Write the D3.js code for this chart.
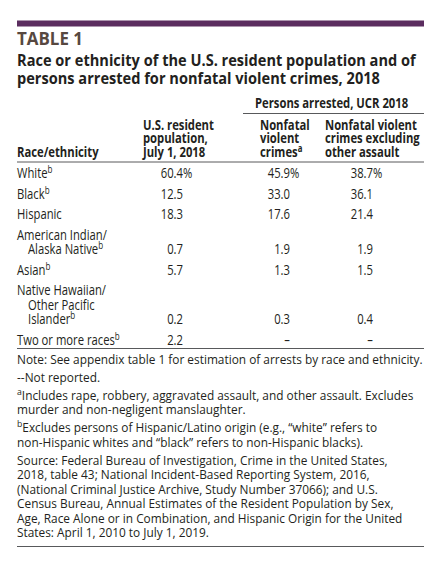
<!DOCTYPE html>
<html><head><meta charset="utf-8">
<script src="https://cdn.jsdelivr.net/npm/d3@7"></script>
<style>
html,body{margin:0;padding:0;background:#fff;}
svg text{font-family:"Open Sans","Noto Sans",sans-serif;fill:#231f20;}
</style></head>
<body><svg id="c" width="440" height="564"></svg>
<script>
// ---- data ----
const categories = [["White"],["Black"],["Hispanic"],["American Indian/","Alaska Native"],["Asian"],["Native Hawaiian/","Other Pacific","Islander"],["Two or more races"]];
const categorySup = ["b","b","","b","b","b","b"];
const populationPct = [60.4, 12.5, 18.3, 0.7, 5.7, 0.2, 2.2];
const nonfatalPct = [45.9, 33.0, 17.6, 1.9, 1.3, 0.3, null];
const nonfatalExclPct = [38.7, 36.1, 21.4, 1.9, 1.5, 0.4, null];
const tableLabel = "TABLE 1";
const titleLines = ["Race or ethnicity of the U.S. resident population and of","persons arrested for nonfatal violent crimes, 2018"];
const groupHeader = "Persons arrested, UCR 2018";
const colHeaders = [["Race/ethnicity"],["U.S. resident","population,","July 1, 2018"],["Nonfatal","violent","crimes|a"],["Nonfatal violent","crimes excluding","other assault"]];
const noteLines = [
  [["Note: See appendix table 1 for estimation of arrests by race and ethnicity."]],
  [["--Not reported."]],
  [["a",1],["Includes rape, robbery, aggravated assault, and other assault. Excludes"]],
  [["murder and non-negligent manslaughter."]],
  [["b",1],["Excludes persons of Hispanic/Latino origin (e.g., “white” refers to"]],
  [["non-Hispanic whites and “black” refers to non-Hispanic blacks)."]],
  [["Source: Federal Bureau of Investigation, Crime in the United States,"]],
  [["2018, table 43; National Incident-Based Reporting System, 2016,"]],
  [["(National Criminal Justice Archive, Study Number 37066); and U.S."]],
  [["Census Bureau, Annual Estimates of the Resident Population by Sex,"]],
  [["Age, Race Alone or in Combination, and Hispanic Origin for the United"]],
  [["States: April 1, 2010 to July 1, 2019."]]
];
const noteGaps = [0,1,1,0,1,0,1,0,0,0,0,0];

// ---- layout ----
const svg = d3.select("#c");
const L = 17, R = 424;
const fmt = d3.format(".1f");
const NOTE = 13, ROW = 14, HEAD = 14.5, TITLE = 16.5, LABEL = 18.5;

function measure(str, size, weight){
  const t = svg.append("text").attr("font-size",size).attr("font-weight",weight).text(str);
  const w = t.node().getComputedTextLength(); t.remove(); return w;
}
const S = {
  note: 406 / measure(noteLines[0][0][0], NOTE, "normal"),
  row: 98 / measure("Two or more races", ROW, "normal"),
  head: 92 / measure("Nonfatal violent", HEAD, "bold"),
  title: 399 / measure(titleLines[0], TITLE, "bold"),
  label: 66 / measure(tableLabel, LABEL, "bold")
};

function txt(x, y, size, weight, kind, anchor){
  return svg.append("text")
    .attr("transform",`translate(${x},${y}) scale(${S[kind]},1)`)
    .attr("font-size",size).attr("font-weight",weight)
    .attr("text-anchor",anchor||"start");
}
function hline(x1,x2,y){
  svg.append("line").attr("x1",x1).attr("x2",x2).attr("y1",y).attr("y2",y).attr("stroke","#58595b").attr("stroke-width",1);
}

svg.append("rect").attr("x",L).attr("y",20.5).attr("width",R-L).attr("height",6).attr("fill","#5b2d5f");
txt(L,45,LABEL,"bold","label").style("fill","#574840").text(tableLabel);
titleLines.forEach((d,i)=>{ txt(L,66+i*18,TITLE,"bold","title").text(d); });

// group header
txt(255,108,HEAD,"bold","head").text(groupHeader);
hline(243,R,113.5);

const colX = [L, 143, 260, 325];
const hdrY = d3.scaleLinear().domain([0,1]).range([157,143.3]);
colHeaders.forEach((lines,ci)=>{
  const n = lines.length;
  lines.forEach((ln,li)=>{
    const parts = ln.split("|");
    const t = txt(colX[ci], hdrY(n-1-li), HEAD, "bold", "head");
    t.append("tspan").text(parts[0]);
    if(parts[1]) t.append("tspan").attr("font-size",10).attr("dy",-5).text(parts[1]);
  });
});
hline(L,R,162);

// rows
const extra = []; let acc = 0;
categories.forEach(c=>{ acc += c.length-1; extra.push(acc); });
const rowY = d3.scaleLinear().domain([0,1]).range([178,198.5]);
const lineStep = 14.5;
const numX = [183, 290, 373];
const series = [populationPct, nonfatalPct, nonfatalExclPct];

categories.forEach((lines,i)=>{
  const last = rowY(i) + extra[i]*lineStep;
  lines.forEach((ln,li)=>{
    const y = last - (lines.length-1-li)*lineStep;
    const t = txt(li===0?L:L+11, y, ROW, "normal", "row");
    t.append("tspan").text(ln);
    if(li===lines.length-1 && categorySup[i]) t.append("tspan").attr("font-size",10).attr("dy",-5).text(categorySup[i]);
  });
  series.forEach((s,si)=>{
    const v = s[i];
    txt(numX[si], last, ROW, "normal", "row", "end").text(v==null?"–":fmt(v));
    if(i===0) txt(numX[si], last, ROW, "normal", "row").text("%");
  });
});
hline(L,R,348.5);

// notes
let ny = 363.5;
noteLines.forEach((parts,i)=>{
  if(i>0) ny += lineStep + noteGaps[i]*3.5;
  const t = txt(L, ny, NOTE, "normal", "note");
  let sup=false;
  parts.forEach(p=>{
    if(p[1]){ t.append("tspan").attr("font-size",9.5).attr("dy",-5).text(p[0]); sup=true; }
    else { const ts=t.append("tspan").text(p[0]); if(sup){ts.attr("dy",5); sup=false;} }
  });
});
hline(L,R,546.5);
</script></body></html>
